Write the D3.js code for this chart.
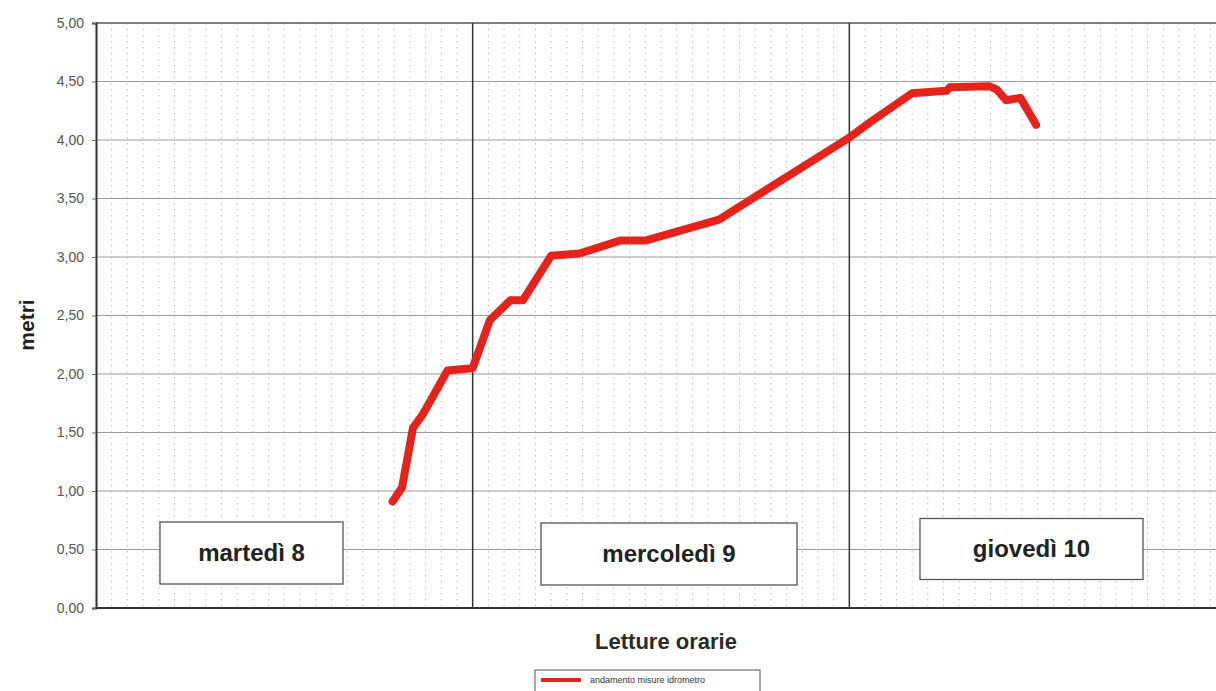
<!DOCTYPE html>
<html>
<head>
<meta charset="utf-8">
<script src="https://cdn.jsdelivr.net/npm/d3@7"></script>
<style>
  html, body { margin: 0; padding: 0; background: #fff; }
  svg { display: block; font-family: "Liberation Sans", Arial, sans-serif; }
</style>
</head>
<body>
<svg id="chart" width="1216" height="691"></svg>
<script>
// Gauge readings: hours counted from midnight of Tuesday 8, level in metres
const hours  = [18.9, 19.5, 20.2, 20.8, 22.4, 24.0, 25.1, 26.4, 27.2, 29.0, 30.8, 33.4, 35.0, 39.7, 48.0, 49.3, 52.0, 54.2, 54.4, 56.9, 57.4, 58.0, 58.9, 59.9];
const levels = [0.91, 1.03, 1.54, 1.65, 2.03, 2.05, 2.46, 2.63, 2.63, 3.01, 3.03, 3.14, 3.14, 3.32, 4.02, 4.15, 4.40, 4.42, 4.45, 4.46, 4.43, 4.34, 4.36, 4.13];

const yTicks = [0, 0.5, 1, 1.5, 2, 2.5, 3, 3.5, 4, 4.5, 5];
const dayStarts = [0, 24, 48];
const dayNames = ["martedì 8", "mercoledì 9", "giovedì 10"];
const seriesName = "andamento misure idrometro";

const svg = d3.select("#chart");
const plotLeft = 96, plotTop = 23, plotBottom = 608, plotRight = 1226;

const x = d3.scaleLinear().domain([0, 72]).range([plotLeft, plotRight]);
const y = d3.scaleLinear().domain([0, 5]).range([plotBottom, plotTop]);

// faint dotted hourly grid
svg.append("g").selectAll("line")
  .data(d3.range(1, 72).filter(h => h % 24 !== 0))
  .join("line")
  .attr("x1", d => x(d)).attr("x2", d => x(d))
  .attr("y1", plotTop).attr("y2", plotBottom)
  .attr("stroke", "#bdbdbd").attr("stroke-width", 1)
  .attr("stroke-dasharray", "1.5,4.5");

// horizontal grid
svg.append("g").selectAll("line")
  .data(yTicks.filter(v => v > 0))
  .join("line")
  .attr("x1", plotLeft).attr("x2", 1216)
  .attr("y1", d => y(d)).attr("y2", d => y(d))
  .attr("stroke", d => d === 5 ? "#555" : "#9a9a9a")
  .attr("stroke-width", d => d === 5 ? 1.5 : 1.2);

// day separators
svg.append("g").selectAll("line")
  .data(dayStarts.slice(1))
  .join("line")
  .attr("x1", d => x(d)).attr("x2", d => x(d))
  .attr("y1", plotTop).attr("y2", plotBottom)
  .attr("stroke", "#333").attr("stroke-width", 1.5);

// y axis
const yAxis = d3.axisLeft(y).tickValues(yTicks)
  .tickFormat(d => d3.format(".2f")(d).replace(".", ","))
  .tickSize(4).tickPadding(8);
const ga = svg.append("g").attr("transform", `translate(${plotLeft},0)`).call(yAxis);
ga.select(".domain").attr("stroke", "#333").attr("stroke-width", 2);
ga.selectAll(".tick line").attr("stroke", "#666");
ga.selectAll(".tick text").attr("font-size", 14).attr("fill", "#555")
  .attr("font-family", "'Liberation Sans', Arial, sans-serif");

// bottom axis line
svg.append("line")
  .attr("x1", plotLeft).attr("x2", 1216).attr("y1", plotBottom).attr("y2", plotBottom)
  .attr("stroke", "#333").attr("stroke-width", 2);

// day label boxes
const boxes = [
  {cx: 251.5, w: 183, h: 62, cy: 553},
  {cx: 669, w: 256, h: 62, cy: 554},
  {cx: 1031.5, w: 223, h: 61, cy: 549}
];
const gBox = svg.append("g");
dayNames.forEach((name, i) => {
  const b = boxes[i];
  gBox.append("rect")
    .attr("x", b.cx - b.w / 2).attr("y", b.cy - b.h / 2)
    .attr("width", b.w).attr("height", b.h)
    .attr("fill", "#fff").attr("stroke", "#555").attr("stroke-width", 1.3);
  gBox.append("text")
    .attr("x", b.cx).attr("y", b.cy + 8)
    .attr("text-anchor", "middle")
    .attr("font-size", 24).attr("font-weight", "bold").attr("fill", "#222")
    .text(name);
});

// water level line
const line = d3.line().x((d, i) => x(hours[i])).y(d => y(d));
svg.append("path")
  .datum(levels)
  .attr("d", line)
  .attr("fill", "none")
  .attr("stroke", "#e3231c")
  .attr("stroke-width", 8)
  .attr("stroke-linejoin", "round")
  .attr("stroke-linecap", "round");

// axis titles
svg.append("text")
  .attr("transform", "translate(34,325) rotate(-90)")
  .attr("text-anchor", "middle")
  .attr("font-size", 21).attr("font-weight", "bold").attr("fill", "#222")
  .text("metri");

svg.append("text")
  .attr("x", 666).attr("y", 649)
  .attr("text-anchor", "middle")
  .attr("font-size", 22).attr("font-weight", "bold").attr("fill", "#2a2a2a")
  .text("Letture orarie");

// legend
const lg = svg.append("g").attr("transform", "translate(535,670)");
lg.append("rect").attr("width", 225).attr("height", 30)
  .attr("fill", "#fff").attr("stroke", "#555").attr("stroke-width", 1);
lg.append("line").attr("x1", 6).attr("x2", 46).attr("y1", 10).attr("y2", 10)
  .attr("stroke", "#e3231c").attr("stroke-width", 4);
lg.append("text").attr("x", 55).attr("y", 13)
  .attr("font-size", 9).attr("fill", "#333").text(seriesName);
</script>
</body>
</html>
